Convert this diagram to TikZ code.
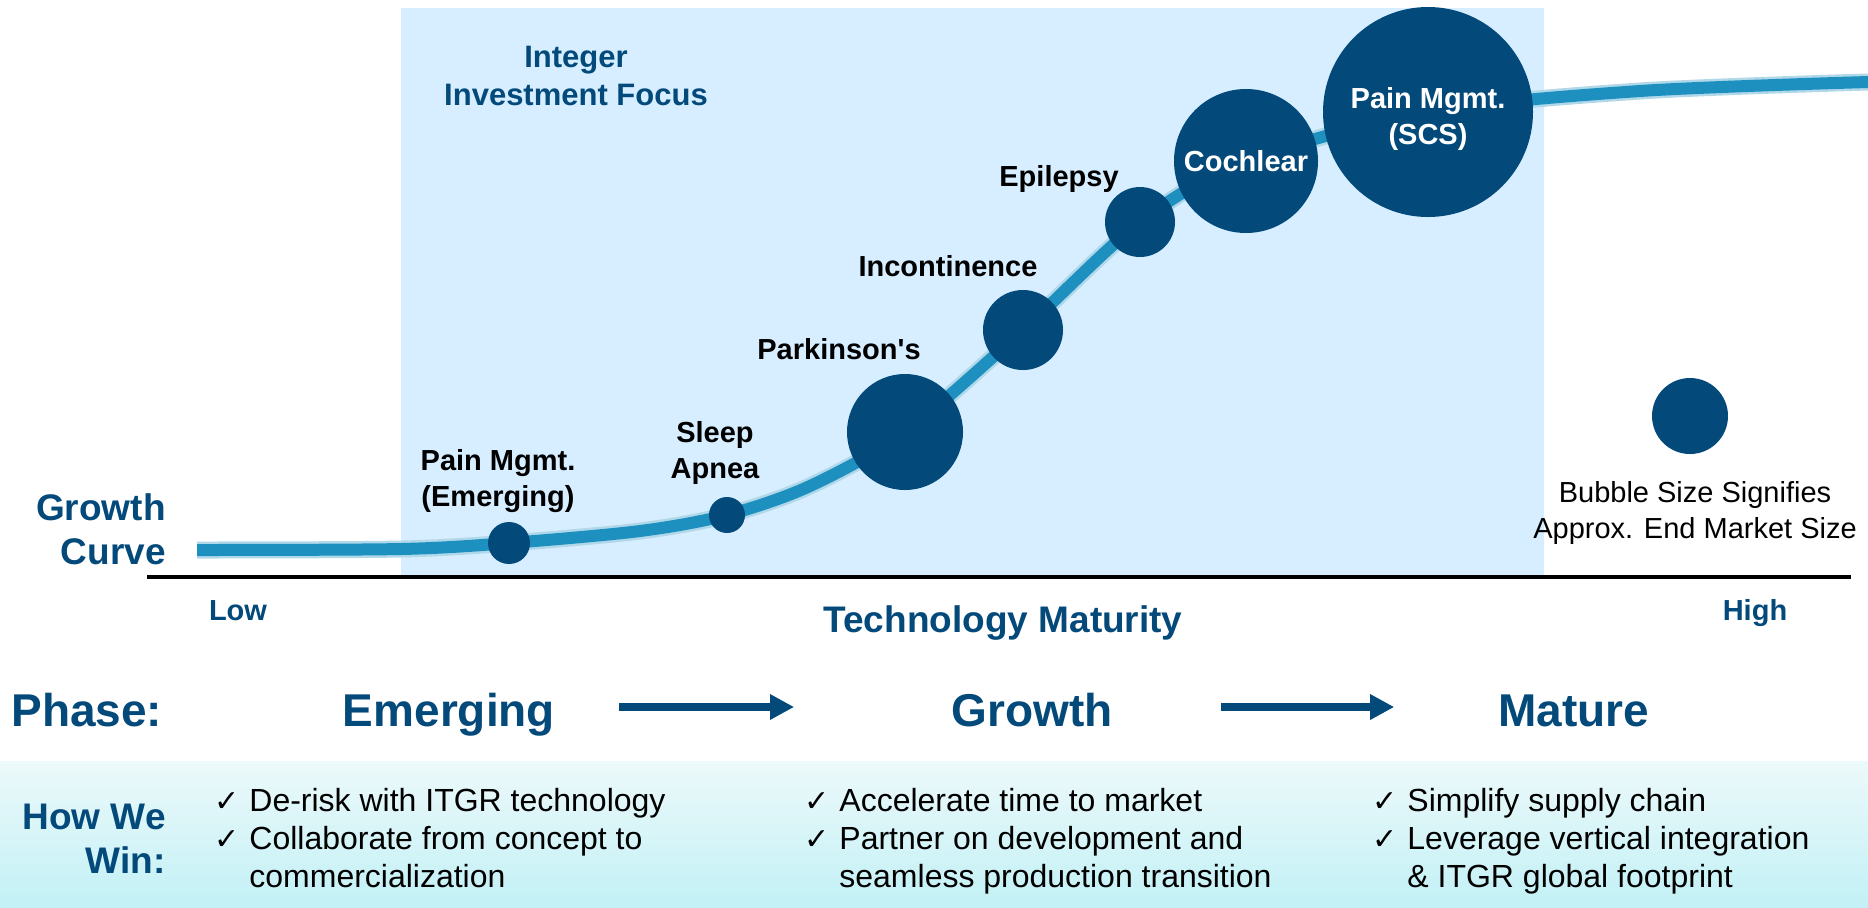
\documentclass[tikz,border=0pt]{standalone}
\usepackage{fontspec}
\setmainfont{Liberation Sans}
\newfontfamily\plainsans{Liberation Sans}
\newfontfamily\symfont{DejaVu Sans}
\usetikzlibrary{arrows.meta}
\definecolor{itgrblue}{RGB}{3,73,122}
\definecolor{itgrcurve}{RGB}{30,144,192}
\definecolor{itgrlight}{RGB}{214,238,255}
\definecolor{bandtop}{RGB}{237,249,250}
\definecolor{bandbot}{RGB}{194,241,246}
\newcommand{\tick}{\makebox[17.5pt][l]{\symfont\fontsize{15}{19}\selectfont ✓}}

\begin{document}
\begin{tikzpicture}[x=0.5pt,y=-0.5pt,
    bubble/.style={circle,fill=itgrblue,inner sep=0pt,text=white,align=center,
      font=\bfseries\fontsize{14.5}{18}\selectfont},
    mkt/.style={font=\bfseries\fontsize{14.5}{18}\selectfont,align=center,inner sep=0pt,anchor=base},
    head/.style={text=itgrblue,font=\bfseries\fontsize{18.5}{22}\selectfont,inner sep=0pt},
    phase/.style={text=itgrblue,font=\bfseries\fontsize{23}{27}\selectfont,inner sep=0pt,
      anchor=base,text height=19pt,text depth=0pt},
    winlist/.style={font=\fontsize{16}{19}\selectfont,align=left,inner sep=0pt,anchor=base west},
    phasearrow/.style={itgrblue,line width=4pt,-{Triangle[length=12pt,width=12pt]}}]
  \useasboundingbox (0,0) rectangle (1868,907);

  % focus area and bottom band
  \fill[itgrlight] (401,8) rectangle (1544,577);
  \shade[top color=bandtop,bottom color=bandbot] (0,761) rectangle (1868,907);
  \draw[line width=2pt] (147,577) -- (1851,577);

  % growth curve (soft edge first)
  \draw[itgrcurve!35,line width=8.5pt] plot[smooth] coordinates {(197,550) (401,549) (509,543) (640,531) (727,515) (810,486) (905,432) (1023,330) (1140,222) (1246,161) (1428,112) (1640,91) (1868,82)};
  \draw[itgrcurve,line width=6pt] plot[smooth] coordinates {(197,550) (401,549) (509,543) (640,531) (727,515) (810,486) (905,432) (1023,330) (1140,222) (1246,161) (1428,112) (1640,91) (1868,82)};

  % market bubbles
  \node[bubble,minimum size=21pt] (pme) at (509,543) {};
  \node[bubble,minimum size=18pt] (sleep) at (727,515) {};
  \node[bubble,minimum size=58pt] (park) at (905,432) {};
  \node[bubble,minimum size=40pt] (inc) at (1023,330) {};
  \node[bubble,minimum size=35pt] (epi) at (1140,222) {};
  \node[bubble,minimum size=72pt] (coch) at (1246,161) {Cochlear};
  \node[bubble,minimum size=105pt] (scs) at (1428,112) {};
  \node[bubble,minimum size=38pt] (key) at (1690,416) {};

  % labels: anchor=base sits on the last line
  \node[mkt,text=white] (scslbl) at (1428,144) {Pain Mgmt.\\(SCS)};
  \node[mkt] (pmelbl) at (498,506) {Pain Mgmt.\\(Emerging)};
  \node[mkt] (sleeplbl) at (715,478) {Sleep\\Apnea};
  \node[mkt] (parklbl) at (839,359) {Parkinson{\plainsans'}s};
  \node[mkt] (inclbl) at (948,276) {Incontinence};
  \node[mkt] (epilbl) at (1059,186) {Epilepsy};
  \node[mkt,font=\fontsize{14.5}{18}\selectfont] (keylbl) at (1695,538) {Bubble Size Signifies\\Approx. End Market Size};

  % titles and axis labels
  \node[head,align=center,anchor=base,font=\bfseries\fontsize{15.5}{19}\selectfont] (focus) at (576,105) {Integer\\Investment Focus};
  \node[head,align=right,anchor=base east] (curve) at (166,564) {Growth\\Curve};
  \node[head,anchor=base] (maturity) at (1003,632) {Technology Maturity};
  \node[head,anchor=base,font=\bfseries\fontsize{14.5}{18}\selectfont] (low) at (238,620) {Low};
  \node[head,anchor=base,font=\bfseries\fontsize{14.5}{18}\selectfont] (high) at (1755,620) {High};

  % phases
  \node[phase,anchor=base west] (phs) at (11,726) {Phase:};
  \node[phase] (emg) at (449,726) {Emerging};
  \node[phase] (grw) at (1032,726) {Growth};
  \node[phase] (mat) at (1574,726) {Mature};
  \draw[phasearrow,shorten <=32pt,shorten >=78.5pt] (emg.east) -- (grw.west);
  \draw[phasearrow,shorten <=54pt,shorten >=52pt] (grw.east) -- (mat.west);

  % how we win
  \node[head,align=right,anchor=base east] (win) at (166,873) {How We\\Win:};
  \node[winlist] (win1) at (214,887) {\tick De-risk with ITGR technology\\\tick Collaborate from concept to\\\hspace*{17.5pt}commercialization};
  \node[winlist] (win2) at (804,887) {\tick Accelerate time to market\\\tick Partner on development and\\\hspace*{17.5pt}seamless production transition};
  \node[winlist] (win3) at (1372,887) {\tick Simplify supply chain\\\tick Leverage vertical integration\\\hspace*{17.5pt}\& ITGR global footprint};
\end{tikzpicture}
\end{document}
